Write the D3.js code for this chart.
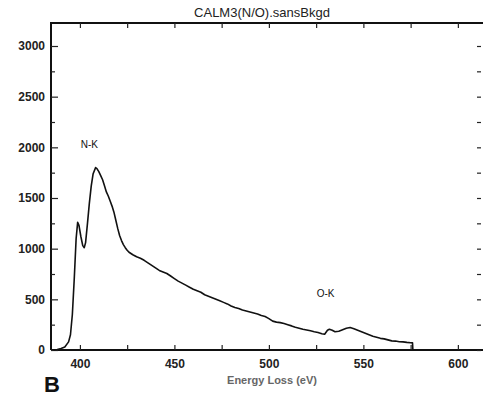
<!DOCTYPE html>
<html><head><meta charset="utf-8">
<script src="https://cdn.jsdelivr.net/npm/d3@7"></script>
<style>
html,body{margin:0;padding:0;background:#fff;}
svg{display:block;font-family:"Liberation Sans",Arial,sans-serif;}
</style></head>
<body>
<svg id="c" width="483" height="396"></svg>
<script>
const title = "CALM3(N/O).sansBkgd";
const xLabel = "Energy Loss (eV)";
const panelLabel = "B";
const xTickValues = [400, 450, 500, 550, 600];
const yTickValues = [0, 500, 1000, 1500, 2000, 2500, 3000];
const energy = [386,388,390,392,394,395,396,397,398,398.8,399.5,400.5,401.5,402.3,403,404,405,406,407,408.3,409,410,411,412,413,414,415,416,417,418,419,420,421,422,423,424,425,426,428,430,432,434,436,438,440,442,444,446,448,450,452,454,456,458,460,462,464,466,468,470,472,474,476,478,480,482,484,486,488,490,492,494,496,498,500,502,504,506,508,510,512,514,516,518,520,522,524,526,528,529.5,531,532,533.5,535,537,539,541,543,545,547,549,551,553,555,557,559,561,563,565,567,569,571,573,575,576,576.2];
const counts = [0,5,15,30,80,150,350,700,1100,1260,1230,1120,1030,1010,1060,1250,1450,1620,1740,1800,1790,1760,1720,1680,1620,1560,1520,1470,1420,1360,1280,1200,1130,1080,1040,1010,985,965,940,920,905,885,860,835,810,785,770,755,730,705,680,660,640,620,600,585,570,545,530,515,500,485,470,455,435,420,410,395,385,375,365,355,340,330,310,285,275,270,262,250,238,225,215,205,198,190,180,172,160,155,195,205,195,180,185,200,215,222,210,195,180,165,150,135,125,115,110,100,90,88,82,80,75,72,70,0];
const annotations = [{text:"N-K", x:405, y:1990}, {text:"O-K", x:530, y:520}];

const svg = d3.select("#c");
const L = 51, R = 483, T = 23, B = 350;
const x = d3.scaleLinear().domain([384.7, 613.3]).range([L, R]);
const y = d3.scaleLinear().domain([0, 3000]).range([B, 46]);

// Frame
svg.append("path").attr("d", `M${L},${B}V${T}H${R}`).attr("fill","none").attr("stroke","#111").attr("stroke-width",2);
svg.append("line").attr("x1",L).attr("x2",R).attr("y1",B).attr("y2",B).attr("stroke","#111").attr("stroke-width",2);

// bottom axis (ticks inside)
const minorX = d3.range(400, 625, 25);
const bAx = d3.axisBottom(x).tickValues(minorX).tickSize(-5).tickFormat(d => xTickValues.includes(d) ? d : "");
svg.append("g").attr("transform",`translate(0,${B})`).call(bAx)
  .call(g => { g.select(".domain").remove(); g.selectAll("line").attr("stroke","#222").attr("stroke-width",1.2);
    g.selectAll("text").attr("y",9).attr("font-size",12).attr("fill","#222").attr("font-weight","bold"); });
// top axis ticks
svg.append("g").attr("transform",`translate(0,${T})`).call(d3.axisTop(x).tickValues(minorX).tickSize(-5).tickFormat(""))
  .call(g => { g.select(".domain").remove(); g.selectAll("line").attr("stroke","#222").attr("stroke-width",1.2); });

// left axis
const minorY = d3.range(0, 3250, 250);
svg.append("g").attr("transform",`translate(${L},0)`).call(d3.axisLeft(y).tickValues(minorY).tickSize(-5).tickFormat(d => yTickValues.includes(d) ? d : ""))
  .call(g => { g.select(".domain").remove(); g.selectAll("line").attr("stroke","#222").attr("stroke-width",1.2)
      .attr("x2", d => yTickValues.includes(d) ? 7 : 4);
    g.selectAll("text").attr("x",-6).attr("font-size",12).attr("fill","#222").attr("font-weight","bold"); });
// right axis ticks
svg.append("g").attr("transform",`translate(${R-2},0)`).call(d3.axisRight(y).tickValues(minorY).tickSize(-4).tickFormat(""))
  .call(g => { g.select(".domain").remove(); g.selectAll("line").attr("stroke","#222").attr("stroke-width",1.2); });

// curve
const data = energy.map((e,i) => [e, counts[i]]);
svg.append("path").datum(data).attr("fill","none").attr("stroke","#111").attr("stroke-width",1.6)
  .attr("stroke-linejoin","round")
  .attr("d", d3.line().x(d => x(d[0])).y(d => y(d[1])));

// annotations
svg.selectAll("text.ann").data(annotations).enter().append("text").attr("class","ann")
  .attr("x", d => x(d.x)).attr("y", d => y(d.y)).attr("text-anchor","middle")
  .attr("font-size",10).attr("fill","#111").text(d => d.text);

// title
svg.append("text").attr("x",262).attr("y",17).attr("text-anchor","middle").attr("font-size",13).attr("fill","#222").text(title);
// x label
svg.append("text").attr("x",272).attr("y",384).attr("text-anchor","middle").attr("font-size",11).attr("font-weight","bold").attr("fill","#666").text(xLabel);
// panel label
svg.append("text").attr("x",44).attr("y",392).attr("font-size",22).attr("font-weight","bold").attr("fill","#111").text(panelLabel);
</script>
</body></html>
